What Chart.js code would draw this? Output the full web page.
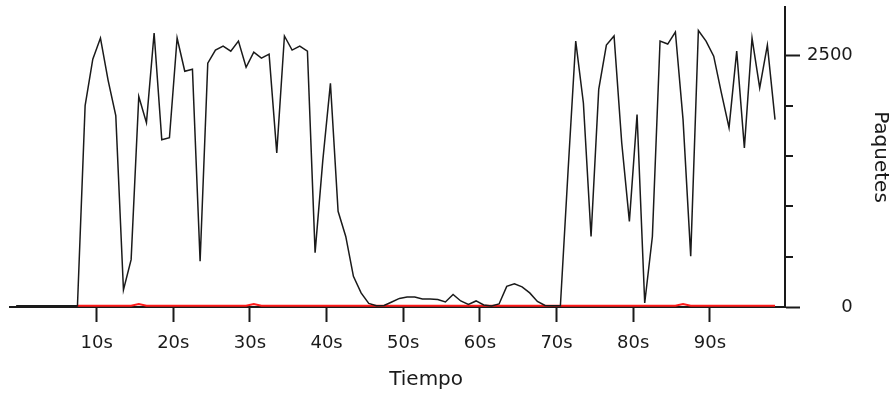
<!DOCTYPE html>
<html>
<head>
<meta charset="utf-8">
<script src="https://cdn.jsdelivr.net/npm/chart.js@4"></script>
<style>
  body { margin: 0; background: #fff; }
  canvas { display: block; }
</style>
</head>
<body>
<canvas id="trafficChart" width="892" height="394"></canvas>
<script>
// Paquetes por segundo (una muestra por segundo, desde -0.5s)
const startTime = -0.5;
const packets = [
  12, 12, 12, 12, 12, 12, 12, 12, 12, 2000,
  2460, 2670, 2250, 1900, 170, 470, 2090, 1830, 2720, 1660,
  1680, 2670, 2340, 2360, 455, 2420, 2550, 2590, 2540, 2640,
  2380, 2530, 2470, 2510, 1530, 2690, 2550, 2590, 2540, 540,
  1450, 2220, 950, 700, 305, 140, 35, 12, 15, 50,
  85, 100, 100, 80, 80, 75, 50, 125, 60, 25,
  60, 20, 10, 30, 205, 230, 200, 140, 55, 15,
  12, 12, 1350, 2640, 2025, 700, 2160, 2600, 2690, 1630,
  850, 1910, 40, 700, 2640, 2610, 2730, 1860, 505, 2745,
  2640, 2490, 2125, 1780, 2540, 1580, 2670, 2175, 2600, 1860
];
// Serie roja (casi cero, empieza en 7.5s)
const redSeries = [
  null, null, null, null, null, null, null, null, 12, 12,
  12, 12, 12, 12, 12, 12, 30, 12, 12, 12,
  12, 12, 12, 12, 12, 12, 12, 12, 12, 12,
  12, 30, 12, 12, 12, 12, 12, 12, 12, 12,
  12, 12, 12, 12, 12, 12, 12, 12, 12, 12,
  12, 12, 12, 12, 12, 12, 12, 12, 12, 12,
  12, 12, 12, 12, 12, 12, 12, 12, 12, 12,
  12, 12, 12, 12, 12, 12, 12, 12, 12, 12,
  12, 12, 12, 12, 12, 12, 12, 30, 12, 12,
  12, 12, 12, 12, 12, 12, 12, 12, 12, 12
];
const xTicks = [10, 20, 30, 40, 50, 60, 70, 80, 90];
const yTicks = [0, 2500];
const yMinorTicks = [500, 1000, 1500, 2000];

const times = packets.map((_, i) => startTime + i);
const toPoints = arr => arr.map((v, i) => ({ x: times[i], y: v }));

const ink = '#1a1a1a';
const font = { family: 'DejaVu Sans', size: 18 };

// Marcas menores del eje Y
const minorTicksPlugin = {
  id: 'minorTicks',
  afterDraw(chart) {
    const y = chart.scales.y;
    const ctx = chart.ctx;
    ctx.save();
    ctx.strokeStyle = ink;
    ctx.lineWidth = 2;
    yMinorTicks.forEach(v => {
      const py = Math.round(y.getPixelForValue(v));
      ctx.beginPath();
      ctx.moveTo(y.left, py);
      ctx.lineTo(y.left + 8, py);
      ctx.stroke();
    });
    ctx.restore();
  }
};

const config = {
  type: 'line',
  data: {
    datasets: [{
      data: toPoints(packets),
      borderColor: ink,
      borderWidth: 1.5,
      pointRadius: 0,
      tension: 0,
      fill: false,
      order: 1
    }, {
      data: toPoints(redSeries),
      borderColor: '#ff1a1a',
      borderWidth: 2,
      pointRadius: 0,
      tension: 0,
      fill: false,
      order: 2
    }]
  },
  options: {
    responsive: false,
    animation: false,
    layout: { padding: { left: 10, top: 7, right: 0, bottom: 0 } },
    plugins: { legend: { display: false }, tooltip: { enabled: false } },
    scales: {
      x: {
        type: 'linear',
        position: 'bottom',
        min: -1.3,
        max: 99.8,
        afterBuildTicks: s => { s.ticks = xTicks.map(v => ({ value: v })); },
        afterFit: s => { s.height = 87; s.paddingLeft = 0; s.paddingRight = 0; },
        ticks: {
          callback: v => v + 's',
          color: ink,
          font: font,
          padding: 11,
          maxRotation: 0,
          autoSkip: false
        },
        grid: { drawOnChartArea: false, drawTicks: true, tickLength: 15, tickWidth: 2, color: ink },
        border: { display: true, color: ink, width: 2 },
        title: {
          display: true,
          text: '         Tiempo',
          color: ink,
          font: { family: 'DejaVu Sans', size: 20 },
          padding: { top: 4, bottom: 2 }
        }
      },
      y: {
        position: 'right',
        min: 0,
        max: 2978,
        afterBuildTicks: s => { s.ticks = yTicks.map(v => ({ value: v })); },
        afterFit: s => { s.width = 107; s.paddingTop = 0; s.paddingBottom = 0; },
        ticks: {
          // alineado a la derecha con espacios de cifra
          callback: v => String(v).padStart(4, '\u2007'),
          color: ink,
          font: font,
          padding: 7,
          crossAlign: 'near'
        },
        grid: { drawOnChartArea: false, drawTicks: true, tickLength: 15, tickWidth: 2, color: ink },
        border: { display: true, color: ink, width: 2 },
        title: {
          display: true,
          text: 'Paquetes',
          color: ink,
          font: { family: 'DejaVu Sans', size: 20 },
          padding: { top: 0, bottom: 0 }
        }
      }
    }
  },
  plugins: [minorTicksPlugin]
};

const myChart = new Chart(document.getElementById('trafficChart'), config);
</script>
</body>
</html>
